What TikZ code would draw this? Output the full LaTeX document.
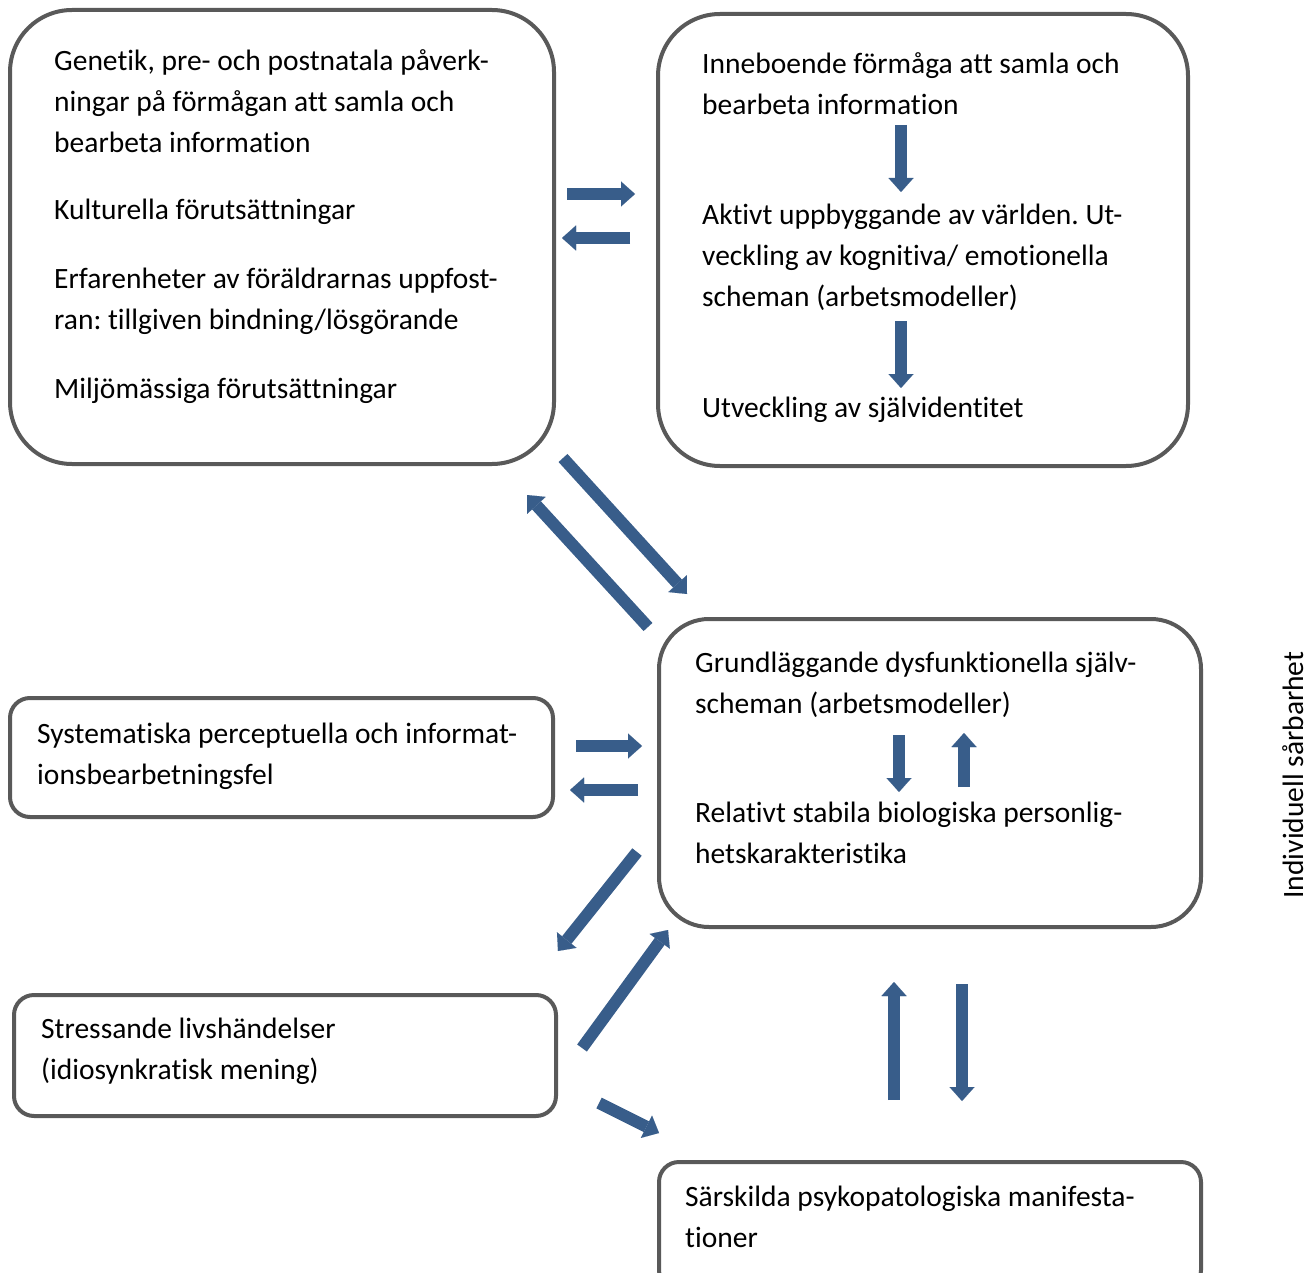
\documentclass[tikz,border=0pt]{standalone}
\usepackage{fontspec}
\setmainfont{Carlito}[Ligatures=NoCommon]
\frenchspacing
\usetikzlibrary{arrows.meta}
\definecolor{boxgray}{HTML}{595959}
\definecolor{arrowblue}{HTML}{385D8A}
\begin{document}
\begin{tikzpicture}[x=1pt,y=-1pt,
  box/.style={draw=boxgray, line width=4pt, inner sep=0pt, outer sep=0pt},
  txt/.style={anchor=base west, inner sep=0pt, font=\fontsize{29.5}{41}\selectfont},
  barrow/.style={draw=arrowblue, line width=12pt,
    -{Triangle[length=14pt,width=25pt,line width=0.01pt]}}]
\useasboundingbox (0,0) rectangle (1309,1273);
\clip (0,0) rectangle (1309,1273);
% boxes
\node[box, rounded corners=62pt, minimum width=544pt, minimum height=454pt] (A) at (282,237) {};
\node[box, rounded corners=62pt, minimum width=530pt, minimum height=452pt] (B) at (923,240) {};
\node[box, rounded corners=50pt, minimum width=542pt, minimum height=308pt] (C) at (930,773) {};
\node[box, rounded corners=20pt, minimum width=543pt, minimum height=119pt] (D) at (281.5,757.5) {};
\node[box, rounded corners=20pt, minimum width=542pt, minimum height=121pt] (E) at (285,1055.5) {};
\node[box, rounded corners=20pt, minimum width=542pt, minimum height=128pt] (F) at (930,1226) {};
% texts box A
\node[txt] (a1) at (54,71) {Genetik, pre- och postnatala påverk-};
\node[txt] (a2) at (54,112) {ningar på förmågan att samla och};
\node[txt] (a3) at (54,153) {bearbeta information};
\node[txt] (a4) at (54,220) {Kulturella förutsättningar};
\node[txt] (a5) at (54,289) {Erfarenheter av föräldrarnas uppfost-};
\node[txt] (a6) at (54,330) {ran: tillgiven bindning/lösgörande};
\node[txt] (a7) at (54,398) {Miljömässiga förutsättningar};
% texts box B
\node[txt] (b1) at (702,74) {Inneboende förmåga att samla och};
\node[txt] (b2) at (702,115) {bearbeta information};
\node[txt] (b3) at (702,225) {Aktivt uppbyggande av världen. Ut-};
\node[txt] (b4) at (702,266) {veckling av kognitiva/ emotionella};
\node[txt] (b5) at (702,307) {scheman (arbetsmodeller)};
\node[txt] (b6) at (702,417) {Utveckling av självidentitet};
% texts box C
\node[txt] (c1) at (695,672) {Grundläggande dysfunktionella själv-};
\node[txt] (c2) at (695,713) {scheman (arbetsmodeller)};
\node[txt] (c3) at (695,822) {Relativt stabila biologiska personlig-};
\node[txt] (c4) at (695,863) {hetskarakteristika};
% texts D, E, F
\node[txt] (d1) at (37,743) {Systematiska perceptuella och informat-};
\node[txt] (d2) at (37,784) {ionsbearbetningsfel};
\node[txt] (e1) at (41,1038) {Stressande livshändelser};
\node[txt] (e2) at (41,1079) {(idiosynkratisk mening)};
\node[txt] (f1) at (685,1206) {Särskilda psykopatologiska manifesta-};
\node[txt] (f2) at (685,1247) {tioner};
% side label
\node[rotate=90, anchor=base, inner sep=0pt, font=\fontsize{29.5}{41}\selectfont] (side) at (1303,775) {Individuell sårbarhet};
% arrow end points
\coordinate (h1s) at (567,194);  \coordinate (h1e) at (635,194);
\coordinate (h2s) at (630,238);  \coordinate (h2e) at (562,238);
\coordinate (b1s) at (901,125);  \coordinate (b1e) at (901,192);
\coordinate (b2s) at (901,321);  \coordinate (b2e) at (901,388);
\coordinate (d1s) at (563,458);  \coordinate (d1e) at (687,594);
\coordinate (d2s) at (648,627);  \coordinate (d2e) at (527,495);
\coordinate (h3s) at (576,746);  \coordinate (h3e) at (642,746);
\coordinate (h4s) at (638,790);  \coordinate (h4e) at (570,790);
\coordinate (c1s) at (899,735);  \coordinate (c1e) at (899,792);
\coordinate (c2s) at (964,787);  \coordinate (c2e) at (964,733);
\coordinate (d3s) at (637,852);  \coordinate (d3e) at (558,951);
\coordinate (d4s) at (582,1048); \coordinate (d4e) at (668,930);
\coordinate (d5s) at (599,1103); \coordinate (d5e) at (659,1133);
\coordinate (v1s) at (894,1100); \coordinate (v1e) at (894,982);
\coordinate (v2s) at (962,984);  \coordinate (v2e) at (962,1101);
% arrows
\foreach \n in {h1,h2,b1,b2,d1,d2,h3,h4,c1,c2,d3,d4,d5,v1,v2}
  \draw[barrow] (\n s) -- (\n e);
\end{tikzpicture}
\end{document}
